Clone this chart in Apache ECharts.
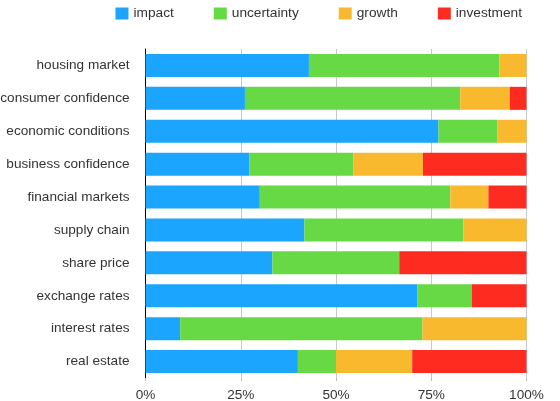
<!DOCTYPE html>
<html><head><meta charset="utf-8">
<script src="https://cdn.jsdelivr.net/npm/echarts@6/dist/echarts.min.js"></script>
<style>html,body{margin:0;padding:0;background:#fff}#c{width:560px;height:401px}</style>
</head><body><div id="c"></div>
<script>
const categories = ["housing market","consumer confidence","economic conditions","business confidence","financial markets","supply chain","share price","exchange rates","interest rates","real estate"];
const impact =      [42.9, 26.1, 76.9, 27.3, 30, 41.7, 33.3, 71.4,  9.1, 40];
const uncertainty = [50.0, 56.5, 15.4, 27.3, 50, 41.7, 33.3, 14.3, 63.6, 10];
const growth =      [ 7.1, 13.0,  7.7, 18.2, 10, 16.6,  0,    0,   27.3, 20];
const investment =  [ 0,    4.4,  0,   27.2, 10,  0,   33.4, 14.3,  0,   30];
const xTicks = ["0%","25%","50%","75%","100%"];
const seriesNames = ["impact","uncertainty","growth","investment"];
const colors = ["#1ca5ff","#66d945","#f8b92e","#fe2b20"];
const dataSets = [impact, uncertainty, growth, investment];

const chart = echarts.init(document.getElementById('c'), null, {renderer:'canvas'});
const font = "Liberation Sans, Arial, Helvetica, sans-serif";
chart.setOption({
  animation:false,
  color: colors,
  textStyle:{fontFamily:font},
  legend:{
    right:33, top:1.5, itemWidth:13, itemHeight:12, itemGap:40,
    icon:'rect',
    textStyle:{fontSize:13.7, color:'#333', fontFamily:font},
    data: seriesNames
  },
  grid:{left:145.5, right:33.5, top:49, bottom:23, containLabel:false, outerBoundsMode:'none'},
  xAxis:{
    type:'value', min:0, max:100, interval:25,
    axisLine:{show:false},
    axisTick:{show:true, length:3, lineStyle:{color:'#bbb'}},
    splitLine:{show:true, lineStyle:{color:'#c8c8c8', width:1}},
    axisLabel:{fontSize:13.6, color:'#333', margin:10, fontFamily:font,
      formatter:function(v){return xTicks[Math.round(v/25)];}}
  },
  yAxis:{
    type:'category', inverse:true, data:categories,
    axisLine:{show:true, lineStyle:{color:'#000', width:1}},
    axisTick:{show:false},
    axisLabel:{fontSize:13.6, color:'#333', margin:16, fontFamily:font}
  },
  series: seriesNames.map((n,i)=>({
    name:n, type:'bar', stack:'total', barWidth:'70%',
    data: dataSets[i], itemStyle:{color:colors[i]}
  }))
});
</script></body></html>
